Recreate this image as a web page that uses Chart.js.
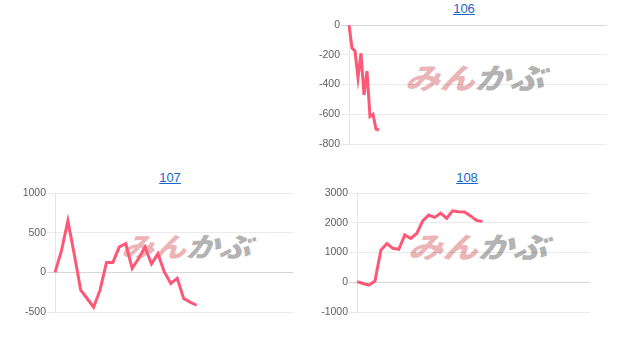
<!DOCTYPE html>
<html lang="ja">
<head>
  <meta charset="UTF-8" />
  <title>106 / 107 / 108</title>
  <script src="https://cdn.jsdelivr.net/npm/chart.js"></script>
  <style>
    body {
      margin: 0;
      background: #fff;
      font-family: 'Liberation Sans', Arial, sans-serif;
    }
    .title {
      position: absolute;
      transform: translateX(-50%);
      font-size: 13px;
      line-height: 15px;
      color: #1a66cc;
      text-decoration: underline;
    }
    .mark {
      position: absolute;
      transform: translate(-50%, -50%) scaleX(1.2) skewX(-18deg);
      font-family: 'Noto Sans CJK JP', sans-serif;
      font-weight: 900;
      line-height: 1;
      white-space: nowrap;
    }
    .mark .a { color: #ebb5b8; }
    .mark .b { color: #b3b3b3; }
    canvas { position: absolute; }
  </style>
</head>
<body>

<a class="title" href="#" style="left:464px; top:1px;">106</a>
<span class="mark" style="left:479px; top:76px; font-size:29px;"><span class="a">みん</span><span class="b">かぶ</span></span>
<canvas id="chart106" width="302" height="135" style="left:305px; top:17px;"></canvas>

<a class="title" href="#" style="left:170px; top:170px;">107</a>
<span class="mark" style="left:190px; top:245px; font-size:27px;"><span class="a">みん</span><span class="b">かぶ</span></span>
<canvas id="chart107" width="282" height="135" style="left:11px; top:185px;"></canvas>

<a class="title" href="#" style="left:467px; top:170px;">108</a>
<span class="mark" style="left:482px; top:245px; font-size:29px;"><span class="a">みん</span><span class="b">かぶ</span></span>
<canvas id="chart108" width="277" height="135" style="left:313px; top:185px;"></canvas>

<script>
  // 損益の推移 (値は画像から読み取り)
  const count106 = 87;
  const count107 = 38;
  const count108 = 40;

  const values106 = [0, -155, -175, -355, -190, -470, -310, -615, -600, -700, -706];
  const values107 = [0, 270, 650, 225, -225, -330, -440, -225, 125, 125, 320, 360, 50, 175,
                     320, 105, 235, 5, -140, -75, -330, -375, -415];
  const values108 = [20, -40, -100, 40, 1080, 1300, 1140, 1110, 1590, 1470, 1640, 2060,
                     2260, 2180, 2320, 2150, 2400, 2370, 2360, 2230, 2080, 2040];

  const labels106 = Array.from({ length: count106 }, (_, i) => String(i + 1));
  const labels107 = Array.from({ length: count107 }, (_, i) => String(i + 1));
  const labels108 = Array.from({ length: count108 }, (_, i) => String(i + 1));

  const LINE_COLOR = 'rgb(255, 88, 118)';
  const FONT = "'Liberation Sans', Arial, sans-serif";

  function makeChart(id, labels, values, yMin, yMax, yStep) {
    return new Chart(document.getElementById(id), {
      type: 'line',
      data: {
        labels: labels,
        datasets: [{
          data: values,
          borderColor: LINE_COLOR,
          borderWidth: 3,
          pointRadius: 0,
          tension: 0,
          fill: false
        }]
      },
      options: {
        responsive: false,
        animation: false,
        layout: { padding: { top: 8, bottom: 8, left: 0, right: 0 } },
        plugins: {
          legend: { display: false },
          tooltip: { enabled: false }
        },
        scales: {
          x: { display: false },
          y: {
            min: yMin,
            max: yMax,
            ticks: {
              stepSize: yStep,
              color: '#5f5f5f',
              padding: 1,
              font: { size: 10.5, family: FONT },
              callback: v => String(v)
            },
            grid: {
              tickLength: 8,
              color: c => (c.tick && c.tick.value === 0) ? 'rgba(0,0,0,0.16)' : 'rgba(0,0,0,0.08)'
            },
            border: { color: 'rgba(0,0,0,0.1)' },
            afterFit: s => { s.width = 44; }
          }
        }
      }
    });
  }

  makeChart('chart106', labels106, values106, -800, 0, 200);
  makeChart('chart107', labels107, values107, -500, 1000, 500);
  makeChart('chart108', labels108, values108, -1000, 3000, 1000);
</script>

</body>
</html>
